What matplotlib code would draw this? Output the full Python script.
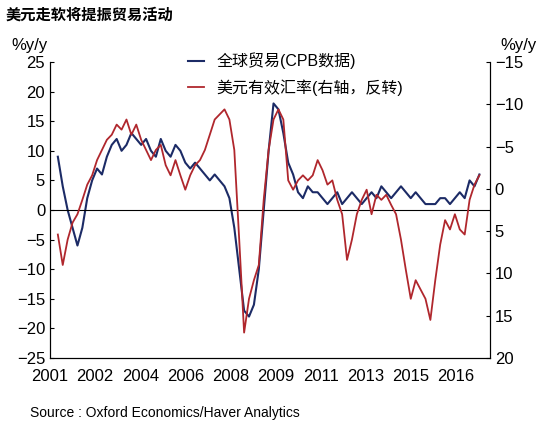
import matplotlib
matplotlib.use("Agg")
import matplotlib.pyplot as plt
import numpy as np

plt.rcParams['font.family'] = ['Liberation Sans', 'Noto Sans CJK SC', 'DejaVu Sans']

# x positions expressed as fractional years (approximate)
px = np.arange(50, 481, 5)
years = 2001 + (px - 50) / 27.9

trade = [9, 4, 0, -3, -6, -3, 2, 5, 7, 6, 9, 11, 12, 10, 11, 13, 12, 11, 12, 10, 9, 12, 10, 9, 11,
         10, 8, 7, 8, 7, 6, 5, 6, 5, 4, 2, -3, -10, -17, -18, -16, -10, 0, 10, 18, 17, 13, 8, 6, 3,
         2, 4, 3, 3, 2, 1, 2, 3, 1, 2, 3, 2, 1, 2, 3, 2, 4, 3, 2, 3, 4, 3, 2, 3, 2, 1, 1, 1, 2, 2,
         1, 2, 3, 2, 5, 4, 6]
usd = [5.4, 9, 6, 4, 3, 1.3, -0.5, -1.6, -3.4, -4.6, -5.8, -6.4, -7.6, -7, -8.2, -6.4, -7.6, -5.8,
       -4.6, -3.4, -4.6, -5.2, -2.8, -1.6, -3.4, -1.6, 0.1, -1.6, -2.8, -3.4, -4.6, -6.4, -8.2,
       -8.8, -9.4, -8.2, -4.6, 6, 17, 13, 10.8, 9, 1.3, -4.6, -8.2, -9.4, -8.2, -1, 0.1, -1, -1.6,
       -1, -1.6, -3.4, -2.2, -0.5, -1, 1.3, 3, 8.4, 6, 3, 1.3, 0.1, 3, 0.7, 1.3, 0.7, 1.9, 3, 6,
       9.6, 13, 10.8, 11.9, 13, 15.5, 10.8, 6.6, 3.7, 4.8, 3, 4.8, 5.4, 1.3, -0.5, -1.6]

tick_labels = ['2001', '2002', '2004', '2006', '2008', '2009', '2011', '2013', '2015', '2016']
tick_pos = [2001 + (42 + 46 * k - 50) / 27.9 for k in range(10)]

fig = plt.figure(figsize=(5.45, 4.30), dpi=100)
ax = fig.add_axes([50/545, 1-358/430, 440/545, 296/430])
ax2 = ax.twinx()

blue = '#1c2b66'
red = '#b0272d'
l1, = ax.plot(years, trade, color=blue, lw=1.5, label='全球贸易(CPB数据)')
l2, = ax2.plot(years, usd, color=red, lw=1.3, label='美元有效汇率(右轴，反转)')

ax.set_ylim(-25, 25)
ax.set_yticks(range(-25, 26, 5))
ax2.set_ylim(20, -15)
ax2.set_yticks(range(-15, 21, 5))
ax.set_xlim(2001, 2016.8)
ax.set_xticks(tick_pos)
ax.set_xticklabels(tick_labels)
ax.axhline(0, color='black', lw=0.8)
for a in (ax, ax2):
    a.spines['top'].set_visible(False)
    a.tick_params(labelsize=12, direction='in', length=3)
ax.tick_params(axis='x', length=0, pad=8)

ax.legend(handles=[l1, l2], loc='upper left', bbox_to_anchor=(0.28, 1.08), frameon=False,
          fontsize=11.5, handlelength=1.0, labelspacing=0.6)

fig.text(0.01, 0.965, '美元走软将提振贸易活动', fontsize=11, fontweight='bold', va='center')
fig.text(0.02, 0.895, '%y/y', fontsize=12, va='center')
fig.text(0.985, 0.895, '%y/y', fontsize=12, va='center', ha='right')
fig.text(0.055, 0.04, 'Source : Oxford Economics/Haver Analytics', fontsize=10, va='center')

fig.savefig('out.png', dpi=100)
